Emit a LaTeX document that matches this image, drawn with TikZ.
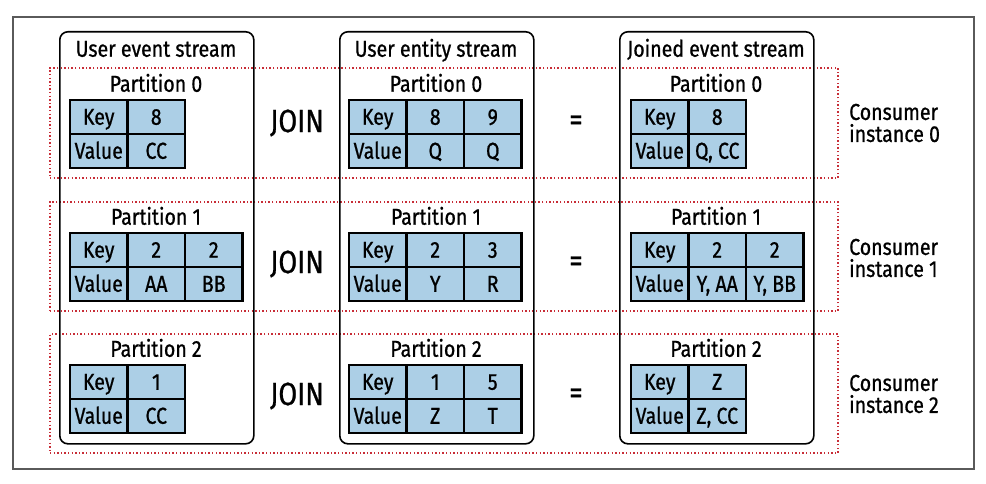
\documentclass[tikz,border=0pt]{standalone}
\usepackage{fontspec}
\setmainfont{Fira Sans}[FakeStretch=0.85, FakeBold=0.8]
\usetikzlibrary{positioning}
\definecolor{cellblue}{RGB}{172,207,230}
\definecolor{dotred}{RGB}{200,45,55}
\definecolor{framegray}{RGB}{90,90,90}

\begin{document}
\begin{tikzpicture}[x=1pt, y=-1pt,
    cell/.style={rectangle, draw, line width=2.2pt, fill=cellblue, minimum width=57.5pt, minimum height=34pt, inner sep=0pt, outer sep=0pt, text height=15.5pt, text depth=0pt, font=\fontsize{23}{23}\selectfont},
    stream/.style={rectangle, draw, rounded corners=8pt, line width=1.6pt, minimum width=194pt, minimum height=412pt, anchor=north west},
    consumer/.style={rectangle, draw=dotred, line width=1.4pt, dash pattern=on 1.4pt off 2.2pt, minimum width=788pt},
    title/.style={text height=15.5pt, text depth=0pt, font=\fontsize{23}{23}\selectfont},
    op/.style={font=\fontsize{32}{32}\selectfont},
    label/.style={align=left, anchor=west, inner sep=0pt, font=\fontsize{23}{22}\selectfont}]
    \useasboundingbox (0,0) rectangle (986,484);
    \draw[framegray, line width=1.3pt] (13,17) rectangle (974,469);

    % Consumer instances
    \node (row0) [consumer, minimum height=110pt] at (444,123) {};
    \node (row1) [consumer, minimum height=109pt] at (444,256.5) {};
    \node (row2) [consumer, minimum height=119pt] at (444,393.5) {};
    \node (inst0) [label] at (849,123) {Consumer\\instance 0};
    \node (inst1) [label] at (849,258) {Consumer\\instance 1};
    \node (inst2) [label] at (849,394) {Consumer\\instance 2};

    % Streams
    \node (events) [stream] at (59,31) {};
    \node (entities) [stream] at (339,31) {};
    \node (joined) [stream] at (619,31) {};
    \node (eventsT) [title] at (156,49) {User event stream};
    \node (entitiesT) [title] at (436,49) {User entity stream};
    \node (joinedT) [title] at (716,49) {Joined event stream};

    % Partition labels
    \node (ev0) [title] at (156,84) {Partition 0};
    \node (ev1) [title] at (156,217) {Partition 1};
    \node (ev2) [title] at (156,349) {Partition 2};
    \node (en0) [title] at (436,84) {Partition 0};
    \node (en1) [title] at (436,217) {Partition 1};
    \node (en2) [title] at (436,349) {Partition 2};
    \node (jo0) [title] at (716,84) {Partition 0};
    \node (jo1) [title] at (716,217) {Partition 1};
    \node (jo2) [title] at (716,349) {Partition 2};

    % User event stream tables
    \node (ev0key) [cell, anchor=north west] at (70,100) {Key};
    \node (ev0val) [cell, below=0pt of ev0key] {Value};
    \node (ev0k1) [cell, right=0pt of ev0key] {8};
    \node (ev0v1) [cell, right=0pt of ev0val] {CC};
    \node (ev1key) [cell, anchor=north west] at (70,233) {Key};
    \node (ev1val) [cell, below=0pt of ev1key] {Value};
    \node (ev1k1) [cell, right=0pt of ev1key] {2};
    \node (ev1v1) [cell, right=0pt of ev1val] {AA};
    \node (ev1k2) [cell, right=0pt of ev1k1] {2};
    \node (ev1v2) [cell, right=0pt of ev1v1] {BB};
    \node (ev2key) [cell, anchor=north west] at (70,365) {Key};
    \node (ev2val) [cell, below=0pt of ev2key] {Value};
    \node (ev2k1) [cell, right=0pt of ev2key] {1};
    \node (ev2v1) [cell, right=0pt of ev2val] {CC};

    % User entity stream tables
    \node (en0key) [cell, anchor=north west] at (349,100) {Key};
    \node (en0val) [cell, below=0pt of en0key] {Value};
    \node (en0k1) [cell, right=0pt of en0key] {8};
    \node (en0v1) [cell, right=0pt of en0val] {Q};
    \node (en0k2) [cell, right=0pt of en0k1] {9};
    \node (en0v2) [cell, right=0pt of en0v1] {Q};
    \node (en1key) [cell, anchor=north west] at (349,233) {Key};
    \node (en1val) [cell, below=0pt of en1key] {Value};
    \node (en1k1) [cell, right=0pt of en1key] {2};
    \node (en1v1) [cell, right=0pt of en1val] {Y};
    \node (en1k2) [cell, right=0pt of en1k1] {3};
    \node (en1v2) [cell, right=0pt of en1v1] {R};
    \node (en2key) [cell, anchor=north west] at (349,365) {Key};
    \node (en2val) [cell, below=0pt of en2key] {Value};
    \node (en2k1) [cell, right=0pt of en2key] {1};
    \node (en2v1) [cell, right=0pt of en2val] {Z};
    \node (en2k2) [cell, right=0pt of en2k1] {5};
    \node (en2v2) [cell, right=0pt of en2v1] {T};

    % Joined event stream tables
    \node (jo0key) [cell, anchor=north west] at (631,100) {Key};
    \node (jo0val) [cell, below=0pt of jo0key] {Value};
    \node (jo0k1) [cell, right=0pt of jo0key] {8};
    \node (jo0v1) [cell, right=0pt of jo0val] {Q, CC};
    \node (jo1key) [cell, anchor=north west] at (631,233) {Key};
    \node (jo1val) [cell, below=0pt of jo1key] {Value};
    \node (jo1k1) [cell, right=0pt of jo1key] {2};
    \node (jo1v1) [cell, right=0pt of jo1val] {Y, AA};
    \node (jo1k2) [cell, right=0pt of jo1k1] {2};
    \node (jo1v2) [cell, right=0pt of jo1v1] {Y, BB};
    \node (jo2key) [cell, anchor=north west] at (631,365) {Key};
    \node (jo2val) [cell, below=0pt of jo2key] {Value};
    \node (jo2k1) [cell, right=0pt of jo2key] {Z};
    \node (jo2v1) [cell, right=0pt of jo2val] {Z, CC};

    % Operators
    \node (join0) [op] at (297,123) {JOIN};
    \node (join1) [op] at (297,264) {JOIN};
    \node (join2) [op] at (297,396) {JOIN};
    \node (eq0) [op] at (576,123) {=};
    \node (eq1) [op] at (576,264) {=};
    \node (eq2) [op] at (576,396) {=};
\end{tikzpicture}
\end{document}
